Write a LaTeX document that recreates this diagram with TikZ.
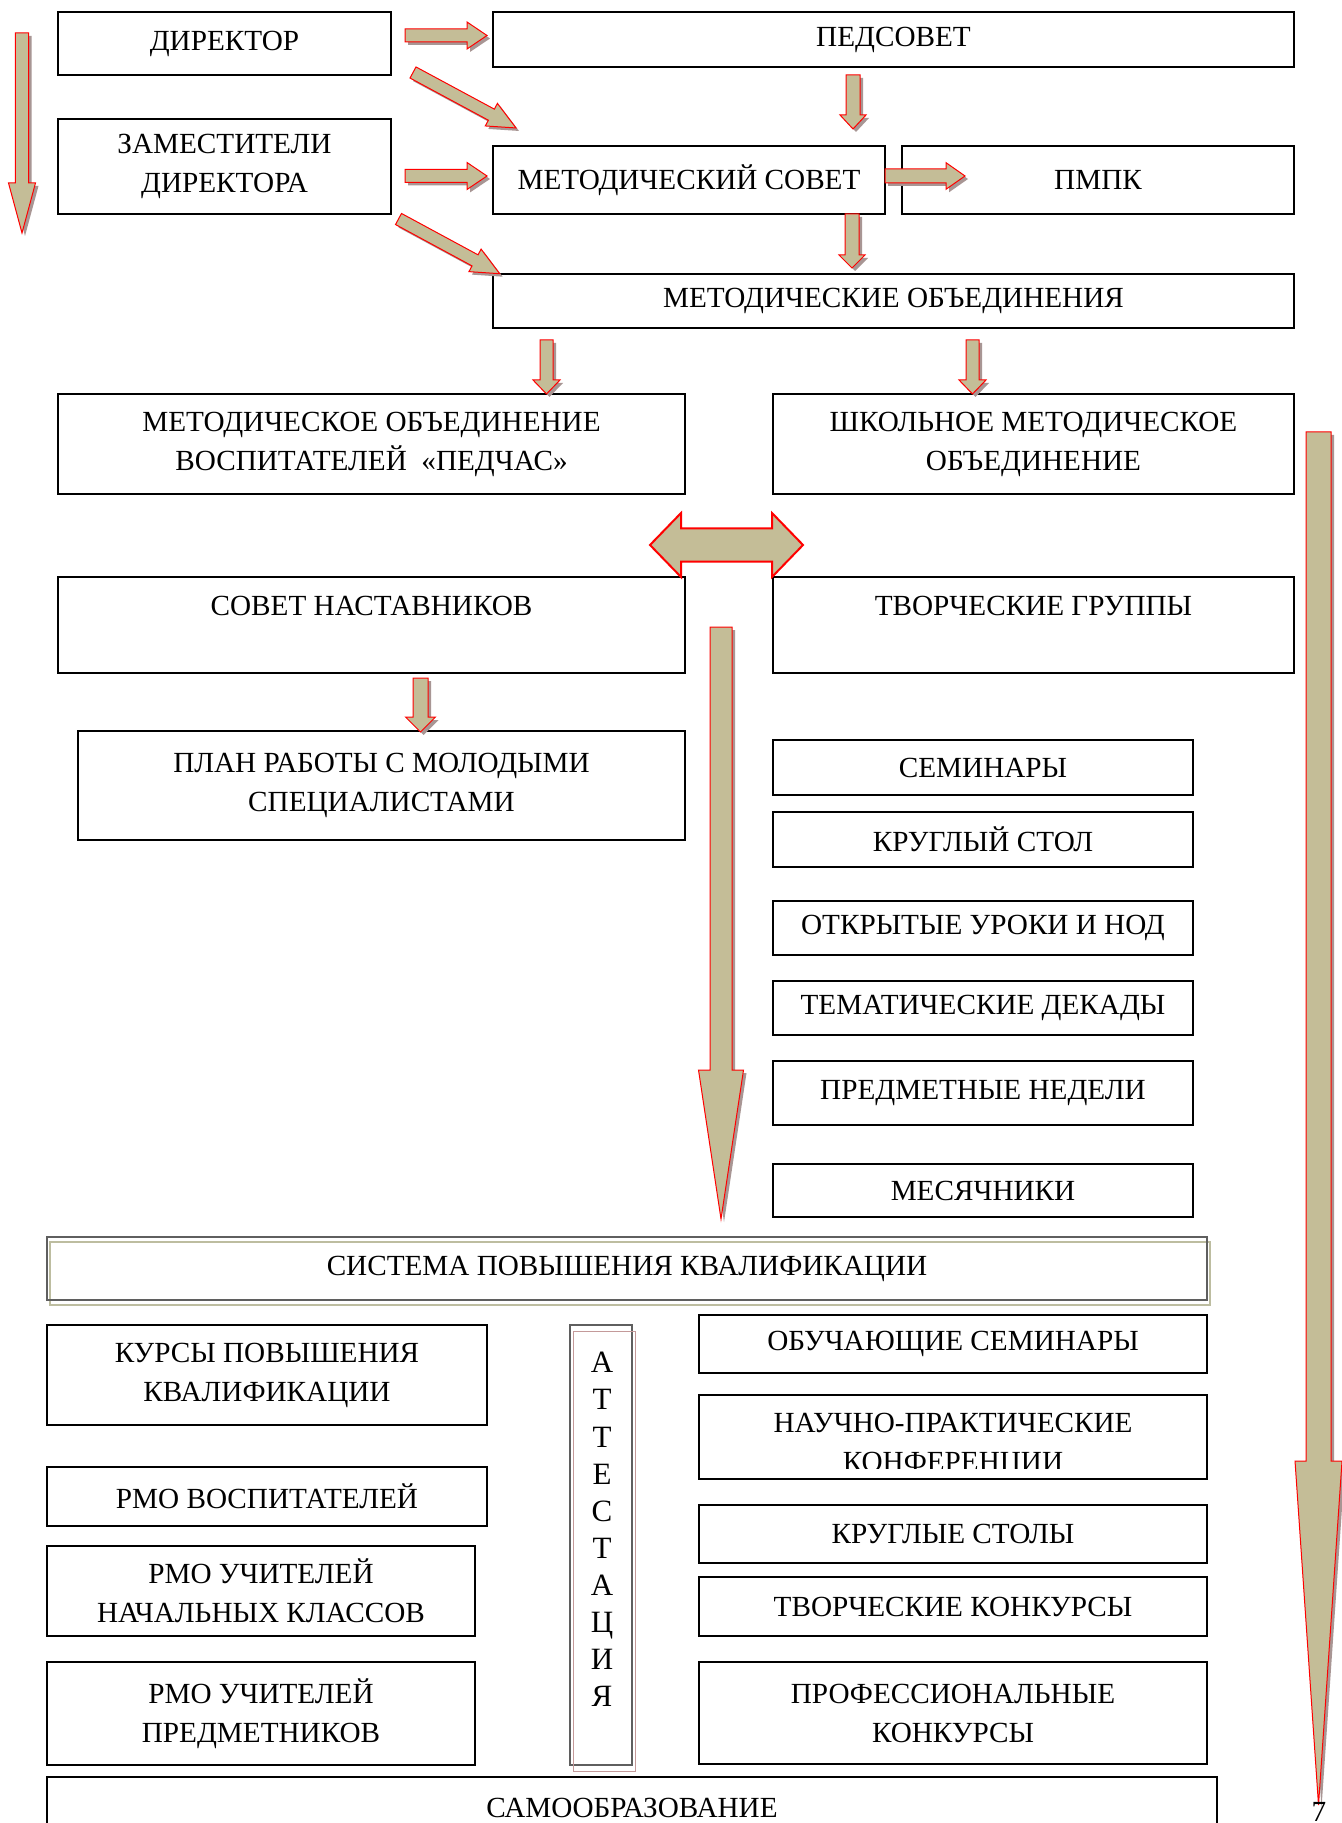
\documentclass[tikz,border=0pt]{standalone}
\usepackage{fontspec}
\setmainfont{Liberation Serif}
\usepackage{xcolor}
\usepackage{tikz}
\usetikzlibrary{calc}

\definecolor{khaki}{HTML}{C4BD97}
\definecolor{shade}{RGB}{168,150,148}
\definecolor{frame}{HTML}{5F5F5F}
\definecolor{olivegray}{HTML}{BDBDA0}
\definecolor{pinkgray}{HTML}{C49A9A}

% block arrow: tail, angle, length, half shaft, half head, head length
\newcommand\blockarrow[6]{%
  \foreach \dd/\sty in {3/barrowshadow,0/barrow}{%
    \begin{scope}[shift={#1}, shift={(\dd,\dd)}, rotate=#2]
      \path[\sty] (0,-#4) -- ({#3-#6},-#4) -- ({#3-#6},-#5) -- (#3,0)
        -- ({#3-#6},#5) -- ({#3-#6},#4) -- (0,#4) -- cycle;
    \end{scope}}}

\begin{document}
\begin{tikzpicture}[x=0.5pt, y=-0.5pt,
  box/.style={draw=black, line width=0.9pt, inner sep=0pt, outer sep=0pt, align=center,
    font=\fontsize{14.6}{19.5}\selectfont},
  boxat/.style n args={4}{minimum width={(#3-#1)*0.5pt}, minimum height={(#4-#2)*0.5pt},
    at={({(#1+#3)/2},{(#2+#4)/2})}},
  barrow/.style={fill=khaki, draw=red, line width=0.5pt},
  barrowshadow/.style={fill=shade}]
	\path[use as bounding box, fill=white] (0,0) rectangle (1341,1823);
	\node[box, boxat={58}{12}{391}{75}]      (dir)   {ДИРЕКТОР};
	\node[box, boxat={493}{12}{1294}{67}]    (ped)   {ПЕДСОВЕТ};
	\node[box, boxat={58}{119}{391}{214}]    (zam)   {ЗАМЕСТИТЕЛИ\\ДИРЕКТОРА};
	\node[box, boxat={493}{146}{885}{214}]   (met)   {МЕТОДИЧЕСКИЙ СОВЕТ};
	\node[box, boxat={902}{146}{1294}{214}]  (pmpk)  {ПМПК};
	\node[box, boxat={493}{274}{1294}{328}]  (mo)    {МЕТОДИЧЕСКИЕ ОБЪЕДИНЕНИЯ};
	\node[box, boxat={58}{394}{685}{494}]    (mov)   {МЕТОДИЧЕСКОЕ ОБЪЕДИНЕНИЕ\\ВОСПИТАТЕЛЕЙ \ «ПЕДЧАС»};
	\node[box, boxat={773}{394}{1294}{494}]  (shmo)  {ШКОЛЬНОЕ МЕТОДИЧЕСКОЕ\\ОБЪЕДИНЕНИЕ};
	\node[box, boxat={58}{577}{685}{673}]    (sov)   {СОВЕТ НАСТАВНИКОВ\\~};
	\node[box, boxat={773}{577}{1294}{673}]  (tg)    {ТВОРЧЕСКИЕ ГРУППЫ\\~};
	\node[box, boxat={78}{731}{685}{840}]    (plan)  {ПЛАН РАБОТЫ С МОЛОДЫМИ\\СПЕЦИАЛИСТАМИ};
	% forms of work
	\node[box, boxat={773}{740}{1193}{795}]   (sem)   {СЕМИНАРЫ};
	\node[box, boxat={773}{812}{1193}{867}]   (kst)   {КРУГЛЫЙ СТОЛ};
	\node[box, boxat={773}{901}{1193}{955}]   (otk)   {ОТКРЫТЫЕ УРОКИ И НОД};
	\node[box, boxat={773}{981}{1193}{1035}]  (tem)   {ТЕМАТИЧЕСКИЕ ДЕКАДЫ};
	\node[box, boxat={773}{1061}{1193}{1125}] (pred)  {ПРЕДМЕТНЫЕ НЕДЕЛИ};
	\node[box, boxat={773}{1164}{1193}{1217}] (mes)   {МЕСЯЧНИКИ};
	% qualification
	\draw[olivegray, line width=0.6pt] (50,1242) rectangle (1210,1305);
	\node[box, draw=frame, line width=0.8pt, boxat={47}{1237}{1207}{1300}] (sys) {СИСТЕМА ПОВЫШЕНИЯ КВАЛИФИКАЦИИ};
	\node[box, boxat={47}{1325}{487}{1425}]   (kurs)  {КУРСЫ ПОВЫШЕНИЯ\\КВАЛИФИКАЦИИ};
	\node[box, boxat={47}{1467}{487}{1526}]   (rvos)  {РМО ВОСПИТАТЕЛЕЙ};
	\node[box, boxat={47}{1546}{475}{1636}]   (rnach) {РМО УЧИТЕЛЕЙ\\НАЧАЛЬНЫХ КЛАССОВ};
	\node[box, boxat={47}{1662}{475}{1765}]   (rpred) {РМО УЧИТЕЛЕЙ\\ПРЕДМЕТНИКОВ};
	\node[box, draw=frame, line width=0.8pt, boxat={570}{1325}{632}{1765}] (att) {};
	\draw[pinkgray, line width=0.5pt] ($(att.north west)+(3,6)$) rectangle ($(att.south east)+(3,6)$);
	\node[anchor=north, align=center, inner sep=0pt, font=\fontsize{15.5}{18.55}\selectfont]
	  (atttxt) at ($(att.north)+(1,27)$) {А\\Т\\Т\\Е\\С\\Т\\А\\Ц\\И\\Я};
	\node[box, boxat={699}{1315}{1207}{1373}] (obuch) {ОБУЧАЮЩИЕ СЕМИНАРЫ};
	\node[box, boxat={699}{1395}{1207}{1479}] (nauch) {};
	\begin{scope}
	  \clip (nauch.north west) rectangle ($(nauch.south east)+(0,-11)$);
	  \node[box, draw=none] (nauchtxt) at ($(nauch)+(0,8.5)$) {НАУЧНО-ПРАКТИЧЕСКИЕ\\КОНФЕРЕНЦИИ};
	\end{scope}
	\node[box, boxat={699}{1505}{1207}{1563}] (kstoly) {КРУГЛЫЕ СТОЛЫ};
	\node[box, boxat={699}{1577}{1207}{1636}] (tkonk)  {ТВОРЧЕСКИЕ КОНКУРСЫ};
	\node[box, boxat={699}{1662}{1207}{1764}] (prof)   {ПРОФЕССИОНАЛЬНЫЕ\\КОНКУРСЫ};
	\node[box, boxat={47}{1777}{1217}{1839}]  (samo)   {САМООБРАЗОВАНИЕ};
	% arrows
	\blockarrow{($(dir.north west)+(-36,21)$)}{-90}{200}{6.7}{13.5}{50}
	\blockarrow{($(dir.east)+(14,-8)$)}{0}{82}{6.5}{13.5}{20}
	\blockarrow{($(dir.south east)+(22,-2.5)$)}{-28.3}{117}{6.3}{12.8}{28}
	\blockarrow{($(met.west)+(-88,-4)$)}{0}{82}{6.5}{13.5}{20}
	\blockarrow{($(zam.south east)+(7.5,5)$)}{-28.4}{115}{6.3}{12.8}{28}
	\blockarrow{($(ped.south -| met.east)+(-32,8)$)}{-90}{54}{7}{13}{14}
	\blockarrow{($(met.east)+(0,-4)$)}{0}{80}{7}{13.3}{19}
	\blockarrow{($(met.south east)+(-33,0)$)}{-90}{54}{7}{13}{13}
	\blockarrow{($(mo.south west)+(53.5,12)$)}{-90}{54}{6.5}{13.5}{14}
	\blockarrow{($(mo.south)+(79,12)$)}{-90}{54}{6.5}{13.5}{14}
	\blockarrow{($(sov.south)+(49,5)$)}{-90}{54}{7.5}{15}{15}
	\blockarrow{($(sov.south east)+(36,-46)$)}{-90}{592}{11}{22.5}{149}
	\blockarrow{($(shmo.south east)+(24.5,-62)$)}{-90}{1373}{12.5}{23.5}{344}
	\coordinate (link) at ($(mov.south east)!.5!(shmo.south west)+(-2.5,51)$);
	\draw[barrow, line width=1pt] ($(link)+(-76.5,0)$) -- ++(31,-32) -- ++(0,15.5) -- ++(91,0)
	  -- ++(0,-15.5) -- ++(31,32) -- ++(-31,32) -- ++(0,-15.5) -- ++(-91,0) -- ++(0,15.5) -- cycle;
	\node[anchor=base, inner sep=0pt, font=\fontsize{14.6}{17}\selectfont] (pnum) at (1319,1821) {7};
\end{tikzpicture}
\end{document}
